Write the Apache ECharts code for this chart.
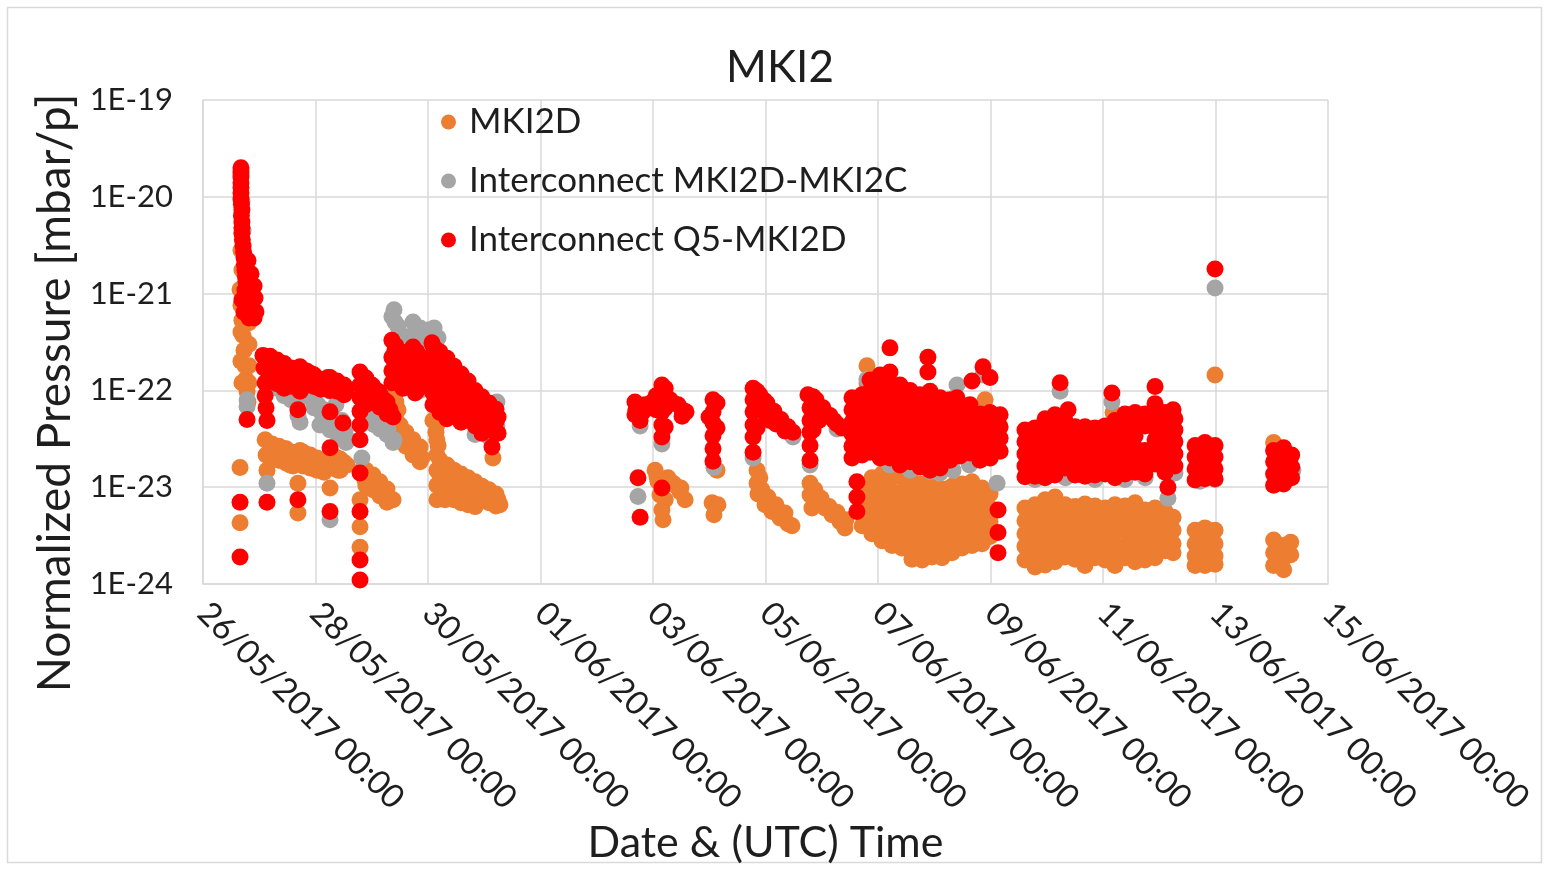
<!DOCTYPE html>
<html>
<head>
<meta charset="utf-8">
<title>MKI2</title>
<script src="https://cdn.jsdelivr.net/npm/echarts@6/dist/echarts.min.js"></script>
<style>
  html, body { margin: 0; padding: 0; background: #ffffff; }
  #chart { width: 1549px; height: 870px; }
</style>
</head>
<body>
<div id="chart"></div>
<script>
// Time axis runs in hours elapsed since 26/05/2017 00:00 UTC.
const xTickLabels = [
  '26/05/2017 00:00', '28/05/2017 00:00', '30/05/2017 00:00', '01/06/2017 00:00',
  '03/06/2017 00:00', '05/06/2017 00:00', '07/06/2017 00:00', '09/06/2017 00:00',
  '11/06/2017 00:00', '13/06/2017 00:00', '15/06/2017 00:00'
];
const yTickLabels = ['1E-24', '1E-23', '1E-22', '1E-21', '1E-20', '1E-19'];
const seriesNames = ['MKI2D', 'Interconnect MKI2D-MKI2C', 'Interconnect Q5-MKI2D'];

// [hours since start, normalized pressure in mbar/p]
const mki2d = [
  // 26/05
  [15.8,1.1e-21],[16.2,7.6e-22],[16.6,5.3e-22],[17.1,3.7e-22],[17.5,2.6e-22],[17.9,1.8e-22],[18.3,1.3e-22],
  [18.8,9.8e-23],[19.2,7.6e-23],[16.2,2.8e-21],[16.6,1.75e-21],[15.8,1.6e-23],[15.8,4.3e-24],
  [19.6,5e-22],[19.6,3e-22],[19.6,1.8e-22],[19.6,1.2e-22],[16.2,4e-22],[16.2,2e-22],[16.6,1.2e-22],
  // 27/05
  [26.5,3.1e-23],[26.9,2.15e-23],[27.3,1.5e-23],[28.6,2.8e-23],[31.6,2.6e-23],[34.6,2.5e-23],[37.5,2.2e-23],
  [40.1,1.9e-23],[41.4,2.4e-23],[44.4,2.15e-23],[47.4,1.95e-23],[49.9,1.8e-23],[52.5,1.7e-23],[54.2,2.15e-23],
  [57.2,2e-23],[60.2,1.8e-23],[61.4,1.7e-23],[32.9,1.9e-23],[37.1,1.7e-23],[45.6,1.65e-23],[57.6,1.5e-23],
  [40.5,1.1e-23],[40.5,5.4e-24],[54.2,9.8e-24],
  [29.4,2.8e-23],[29.4,2.05e-23],[32.4,2.65e-23],[32.4,1.9e-23],[35.4,2.5e-23],[35.4,1.78e-23],
  [38.4,2.3e-23],[38.4,1.66e-23],[42.7,2.3e-23],[42.7,1.66e-23],[45.7,2.15e-23],[45.7,1.58e-23],
  [48.6,2e-23],[48.6,1.5e-23],[51.6,1.87e-23],[51.6,1.43e-23],[55.5,2.15e-23],[55.5,1.58e-23],
  [58.5,1.95e-23],[58.5,1.5e-23],
  // 28/05
  [67.8,1.5e-23],[69.1,1.19e-23],[71.3,1.3e-23],[74.7,1.05e-23],[78.1,8.7e-24],[81.1,7.4e-24],
  [67,7.4e-24],[67,3.9e-24],[67,2.4e-24],
  [69.5,1.5e-23],[69.5,1.05e-23],[72.5,1.34e-23],[72.5,9.4e-24],[75.5,1.14e-23],[75.5,8.1e-24],
  [78.5,9.6e-24],[78.5,7e-24],
  // 29/05
  [81.9,9e-23],[83.2,6.3e-23],[84.1,4.4e-23],[84.9,3.1e-23],[88.3,3.1e-23],[90.9,2.4e-23],[93.4,2e-23],
  [98.1,4.9e-23],[99.4,3.7e-23],[100.3,2.7e-23],[101.1,1.9e-23],[101.1,1.34e-23],[102,9.4e-24],[103.3,7.4e-24],
  [105.4,1.5e-23],[108.8,1.34e-23],[112.2,1.19e-23],[115.6,1.02e-23],[119,9.2e-24],[122.5,8.3e-24],
  [125.9,7.4e-24],[126.7,6.6e-24],[106.2,1.05e-23],[107.9,8.3e-24],[109.7,9.4e-24],[113.9,8.3e-24],
  [116.5,7.4e-24],[123.7,2e-23],
  [82.3,7.6e-23],[82.3,5.1e-23],[82.3,3.55e-23],[86.6,3.7e-23],[86.6,2.65e-23],[89.6,3.1e-23],[89.6,2.15e-23],
  [92.6,2.6e-23],[92.6,1.83e-23],
  [99.8,4.4e-23],[99.8,3.1e-23],[99.8,2.15e-23],[99.8,1.5e-23],[99.8,1.05e-23],[99.8,7.4e-24],
  [104.1,1.7e-23],[104.1,1.19e-23],[104.1,8.3e-24],[107.1,1.5e-23],[107.1,1.05e-23],[107.1,7.4e-24],
  [110.1,1.37e-23],[110.1,9.6e-24],[110.1,6.9e-24],[113.1,1.25e-23],[113.1,8.9e-24],[113.1,6.6e-24],
  [116.1,1.14e-23],[116.1,8.1e-24],[116.1,6.3e-24],[119,1.02e-23],[119,7.4e-24],
  [122,9.4e-24],[122,6.9e-24],[125,8.5e-24],[125,6.4e-24],
  // 02/06 - 03/06
  [192.9,1.5e-23],[194.1,1.15e-23],[195,8.3e-24],[195.8,5.8e-24],[196.3,4.6e-24],[198.4,1.25e-23],
  [201.4,1.05e-23],[203.5,9e-24],[205.7,7.4e-24],
  [193.7,1.3e-23],[197.2,1.05e-23],[197.2,7.4e-24],[200.6,1.1e-23],[203.9,9.8e-24],
  // 04/06
  [217.2,6.9e-24],[219.7,6.6e-24],[218,5.2e-24],[219.3,1.5e-23],
  // 05/06
  [236.4,1.5e-23],[236.4,1.1e-23],[236.8,8.5e-24],[238.5,9.4e-24],[239.8,6.6e-24],[242.8,5.6e-24],
  [246.2,4.8e-24],[249.6,4.2e-24],
  [237.6,1.25e-23],[241,7.9e-24],[244.5,6.6e-24],[248.3,5.4e-24],[251.3,4e-24],
  // 06/06
  [259,1.1e-23],[259,8.3e-24],[259.8,6.1e-24],[262.4,7.4e-24],[265.4,6.1e-24],[268.4,5.2e-24],
  [271.8,4.4e-24],[273.9,3.8e-24],
  [261.1,9.4e-24],[263.7,7.7e-24],[267.1,6.3e-24],[270.5,5.5e-24],[274.3,4.6e-24],
  // 07/06 - 09/06
  [283.3,1.8e-22],[283.3,1.2e-22],[283.3,8e-23],[283.3,5e-23],[283.3,3e-23],
  [281.2,1.05e-23],[281.2,7.8e-24],[281.2,5.6e-24],[281.2,4e-24],
  [285.4,1.25e-23],[285.4,8.9e-24],[285.4,6.4e-24],[285.4,4.6e-24],[285.4,3.3e-24],
  [289.7,1.37e-23],[289.7,9.8e-24],[289.7,7e-24],[289.7,5e-24],[289.7,3.6e-24],[289.7,2.8e-24],
  [294,1.28e-23],[294,9.1e-24],[294,6.6e-24],[294,4.7e-24],[294,3.4e-24],[294,2.5e-24],
  [298.2,1.25e-23],[298.2,8.9e-24],[298.2,6.4e-24],[298.2,4.6e-24],[298.2,3.3e-24],[298.2,2.35e-24],
  [302.5,1.16e-23],[302.5,8.3e-24],[302.5,6e-24],[302.5,4.3e-24],[302.5,3.1e-24],[302.5,2.2e-24],[302.5,1.8e-24],
  [306.8,1.08e-23],[306.8,7.7e-24],[306.8,5.6e-24],[306.8,4e-24],[306.8,2.85e-24],[306.8,2.05e-24],[306.8,1.77e-24],
  [311,1e-23],[311,7.2e-24],[311,5.2e-24],[311,3.7e-24],[311,2.6e-24],[311,1.9e-24],
  [315.3,9.6e-24],[315.3,6.9e-24],[315.3,4.9e-24],[315.3,3.5e-24],[315.3,2.5e-24],[315.3,1.87e-24],
  [319.6,1.02e-23],[319.6,7.4e-24],[319.6,5.3e-24],[319.6,3.8e-24],[319.6,2.7e-24],[319.6,2.1e-24],
  [323.8,1.08e-23],[323.8,7.7e-24],[323.8,5.6e-24],[323.8,4e-24],[323.8,2.85e-24],[323.8,2.35e-24],
  [328.1,1.14e-23],[328.1,8.1e-24],[328.1,5.8e-24],[328.1,4.2e-24],[328.1,3e-24],[328.1,2.5e-24],
  [332.4,9.8e-24],[332.4,7e-24],[332.4,5e-24],[332.4,3.6e-24],[332.4,2.6e-24],
  [335.8,8.5e-24],[335.8,6.1e-24],[335.8,4.4e-24],[335.8,3.1e-24],
  [333.7,8e-23],[334.5,5.6e-23],[334.9,3.9e-23],[300,1.7e-23],[296,1.6e-23],
  // 10/06 - 12/06
  [350.7,6.1e-24],[350.7,4.5e-24],[350.7,3.3e-24],[350.7,2.45e-24],[350.7,1.77e-24],
  [355,6.6e-24],[355,4.8e-24],[355,3.5e-24],[355,2.55e-24],[355,1.9e-24],[355,1.5e-24],
  [359.3,7.4e-24],[359.3,5.5e-24],[359.3,4e-24],[359.3,2.9e-24],[359.3,2.15e-24],[359.3,1.57e-24],
  [363.5,7.9e-24],[363.5,5.8e-24],[363.5,4.3e-24],[363.5,3.1e-24],[363.5,2.3e-24],[363.5,1.7e-24],
  [367.8,6.6e-24],[367.8,4.8e-24],[367.8,3.5e-24],[367.8,2.55e-24],[367.8,1.9e-24],
  [372.1,6.3e-24],[372.1,4.6e-24],[372.1,3.4e-24],[372.1,2.45e-24],[372.1,1.8e-24],
  [376.3,6.7e-24],[376.3,4.9e-24],[376.3,3.6e-24],[376.3,2.6e-24],[376.3,1.95e-24],[376.3,1.55e-24],
  [380.6,6.4e-24],[380.6,4.7e-24],[380.6,3.5e-24],[380.6,2.5e-24],[380.6,1.87e-24],
  [384.9,6.1e-24],[384.9,4.5e-24],[384.9,3.3e-24],[384.9,2.45e-24],[384.9,1.77e-24],
  [389.1,6.6e-24],[389.1,4.8e-24],[389.1,3.5e-24],[389.1,2.55e-24],[389.1,1.9e-24],[389.1,1.55e-24],
  [393.4,6.4e-24],[393.4,4.7e-24],[393.4,3.5e-24],[393.4,2.5e-24],[393.4,1.87e-24],
  [397.7,6.9e-24],[397.7,5.6e-24],[397.7,4.1e-24],[397.7,3e-24],[397.7,2.2e-24],[397.7,1.7e-24],
  [401.9,5.8e-24],[401.9,4.3e-24],[401.9,3.1e-24],[401.9,2.3e-24],[401.9,1.77e-24],
  [406.2,6.1e-24],[406.2,4.5e-24],[406.2,3.3e-24],[406.2,2.45e-24],[406.2,1.87e-24],
  [410.5,5.6e-24],[410.5,4.1e-24],[410.5,3e-24],[410.5,2.2e-24],
  [413.9,4.9e-24],[413.9,3.6e-24],[413.9,2.6e-24],[413.9,2.1e-24],
  [388.3,5.9e-23],
  // 12/06 - 13/06
  [423.3,3.6e-24],[423.3,2.6e-24],[423.3,1.95e-24],[423.3,1.55e-24],
  [427.5,3.8e-24],[427.5,2.8e-24],[427.5,2.05e-24],[427.5,1.55e-24],
  [431.8,3.6e-24],[431.8,2.6e-24],[431.8,1.95e-24],[431.8,1.6e-24],
  [431.8,1.44e-22],
  // 14/06
  [456.8,2.9e-23],[456.8,2.85e-24],[456.8,2.1e-24],[456.8,1.55e-24],
  [461.1,2.5e-24],[461.1,1.87e-24],[461.1,1.4e-24],[464.1,2.7e-24],[464.1,2e-24]
];

const interconnectDC = [
  // 26/05
  [16.2,1.7e-20],[16.6,9e-21],[17.1,4.5e-21],[17.5,2.5e-21],[18.3,1.2e-21],[19.6,8e-22],[20.1,6e-22],
  [18.8,8e-23],[18.8,6.8e-23],
  // 27/05
  [27.7,2e-22],[31.1,1.28e-22],[34.6,1e-22],[38,8.4e-23],[41.4,4.7e-23],[41.4,1.14e-22],[43.9,9e-23],
  [46.5,8e-23],[49.1,7.1e-23],[51.6,6.3e-23],[54.2,9.8e-23],[56.7,7.1e-23],[59.3,4.9e-23],[60.6,3.8e-23],
  [61,2.9e-23],[27.3,1.1e-23],[54.2,3.9e-23],[54.2,4.6e-24],
  [31.6,1.05e-22],[34.6,8.8e-23],[37.5,8e-23],[40.1,7.1e-23],[40.5,5.5e-23],[47.4,6.6e-23],[50.3,6e-23],
  [53.3,5.3e-23],[56.3,5e-23],[59.3,4.2e-23],[61,3.3e-23],[49.9,4.4e-23],[58,3.2e-23],
  // 28/05
  [69.1,8e-23],[72.1,6.3e-23],[75.5,5.3e-23],[78.9,4.1e-23],[81.5,3.1e-23],[67.8,2e-23],[73.4,4.4e-23],
  [69.5,5.1e-23],[72.5,4.5e-23],[75.5,4e-23],[78.5,3.5e-23],[81.1,2.9e-23],
  // 29/05
  [81.5,6.8e-22],[81.9,5.1e-22],[83.2,3.7e-22],[89.6,5.1e-22],[92.6,4.4e-22],[96,4.2e-22],[98.6,4.4e-22],
  [100.3,3.5e-22],[105.4,1.4e-22],[113.9,8e-23],[121.6,6e-23],[125.4,7.6e-23],[125.4,4.4e-23],
  [86,1.2e-22],[92.6,1e-22],
  [80.6,5.8e-22],[83.2,4.6e-22],[87.9,3.6e-22],[90.5,3.3e-22],[94.3,3.4e-22],[98.1,3.2e-22],
  [116.1,3.5e-23],[122,3.3e-23],
  // 02/06 - 06/06
  [185.6,8e-24],[186.5,4.3e-23],[195.8,2.8e-23],[218,1.6e-23],[234.7,2e-23],[251.7,3.3e-23],
  [259,1.7e-23],[270.5,4e-23],
  // 07/06 - 09/06
  [283.3,1.3e-22],[293,1.7e-23],[301.7,1.5e-23],[310.2,1.45e-23],[314.5,1.4e-23],[320,1.5e-23],
  [327,1.7e-23],[338.8,1.1e-23],[321.7,1.14e-22],[332.8,1.44e-22],[336,2e-23],
  // 10/06 - 12/06
  [365.7,9.8e-23],[387.8,7.6e-23],[411.7,7.7e-24],[355,1.2e-23],[368,1.25e-23],[380.6,1.2e-23],
  [393.4,1.2e-23],[402,1.25e-23],[414.7,1.4e-23],
  // 13/06 - 14/06
  [431.8,1.14e-21],[425.4,1.15e-23],[431.8,1.2e-23],[465,1.5e-23],[464,2e-23]
];

const interconnectQ5 = [
  // 26/05
  [16.2,2e-20],[16.2,1.8e-20],[16.2,1.6e-20],[16.2,1.4e-20],[16.2,1.25e-20],[16.2,1.1e-20],[16.2,9.5e-21],
  [16.4,8.4e-21],[16.6,7.3e-21],[16.4,6.4e-21],[16.6,5.5e-21],[16.6,4.8e-21],[16.6,4.2e-21],[16.8,3.6e-21],
  [17.1,3.1e-21],[17.3,2.7e-21],[17.5,2.35e-21],[17.7,2e-21],[17.9,1.75e-21],[18.1,1.5e-21],[18.3,1.33e-21],
  [19.2,1.05e-21],[20.1,8.2e-22],[20.9,6.8e-22],[19.6,5.6e-22],[16.6,8.6e-22],[17.5,6.4e-22],[21.8,5.6e-22],
  [17.9,1.09e-21],[18.8,5e-23],[15.8,7e-24],[15.8,1.9e-24],
  [19.2,2.2e-21],[20.5,1.6e-21],[21.8,1.2e-21],[22.2,9e-22],[22.6,6.5e-22],
  // 27/05
  [25.6,2.3e-22],[26,1.7e-22],[26.5,1.2e-22],[26.5,8.8e-23],[26.9,6.6e-23],[27.3,4.9e-23],[27.3,7e-24],
  [28.6,2.25e-22],[31.1,2e-22],[33.7,1.8e-22],[36.3,1.6e-22],[38.8,1.4e-22],[32.9,1.44e-22],
  [30.7,1.36e-22],[35,1.2e-22],[38.4,1.1e-22],
  [40.5,1.7e-22],[43.5,1.6e-22],[46.5,1.48e-22],[49.1,1.28e-22],[51.6,1.14e-22],[41.4,1.28e-22],[44.8,1.14e-22],
  [53.3,1.36e-22],[56.3,1.25e-22],[59.3,1.14e-22],[61,1e-22],[54.2,1e-22],
  [40.5,6.3e-23],[40.5,7.4e-24],[54.2,6e-23],[54.2,2.55e-23],[54.2,5.6e-24],[59.7,4.6e-23],
  [28.6,2.2e-22],[28.6,1.7e-22],[28.6,1.25e-22],[31.6,2.06e-22],[31.6,1.55e-22],[31.6,1.17e-22],
  [34.6,1.9e-22],[34.6,1.4e-22],[34.6,1.05e-22],[37.5,1.7e-22],[37.5,1.28e-22],
  [41.4,1.75e-22],[41.4,1.3e-22],[41.4,9.8e-23],[44.4,1.58e-22],[44.4,1.2e-22],[47.4,1.44e-22],[47.4,1.1e-22],
  [50.3,1.3e-22],[50.3,1.03e-22],[54.2,1.36e-22],[57.2,1.25e-22],[57.2,9.8e-23],[60.2,1.14e-22],[60.2,9e-23],
  // 28/05
  [67,1.55e-22],[69.5,1.34e-22],[72.1,1.14e-22],[74.7,9.8e-23],[77.2,8e-23],[79.8,6.3e-23],[81.1,5.3e-23],
  [67,1.14e-22],[67,8.4e-23],[67,6.1e-23],[67,4.4e-23],[67,3.1e-23],[67,1.4e-23],[67,5.6e-24],
  [67,1.77e-24],[67,1.1e-24],[70.4,9e-23],[74.7,7.1e-23],
  [69.5,9.8e-23],[69.5,7.1e-23],[72.5,1.1e-22],[72.5,8.2e-23],[75.5,9.2e-23],[75.5,6.7e-23],
  [78.5,7.6e-23],[78.5,5.7e-23],
  // 29/05
  [80.6,3.3e-22],[81.9,2.6e-22],[83.6,2.1e-22],[85.8,1.62e-22],[87.9,1.36e-22],[80.6,2.2e-22],
  [80.6,1.6e-22],[80.6,1.2e-22],[90.5,9.4e-23],
  [89.6,2.8e-22],[91.7,2.3e-22],[94.3,1.75e-22],[96.4,1.4e-22],[89.6,1.95e-22],
  [97.7,3.1e-22],[100.3,2.55e-22],[102.8,2.1e-22],[105.4,1.75e-22],[107.9,1.44e-22],[110.5,1.18e-22],
  [113.1,1e-22],[115.6,8.4e-23],[118.2,7.3e-23],[120.7,6.3e-23],[123.3,5.8e-23],[125.9,5.3e-23],
  [101.1,1.62e-22],[101.1,1.14e-22],[101.1,8e-23],[101.6,6e-23],[104.9,1e-22],[107.5,9e-23],
  [110.5,8e-23],[113.9,6.6e-23],[117.3,5.7e-23],[120.7,4.9e-23],[124.2,4.3e-23],[125.9,3.6e-23],
  [123.3,2.6e-23],
  [82.3,2.9e-22],[82.3,2.2e-22],[82.3,1.65e-22],[82.3,1.25e-22],
  [85.3,2.5e-22],[85.3,1.87e-22],[85.3,1.4e-22],[85.3,1.05e-22],
  [88.3,2.15e-22],[88.3,1.62e-22],[88.3,1.25e-22],
  [91.3,2.5e-22],[91.3,1.87e-22],[91.3,1.4e-22],[91.3,1e-22],
  [94.3,2.15e-22],[94.3,1.62e-22],[94.3,1.25e-22],
  [98.1,2.9e-22],[98.1,2.2e-22],[98.1,1.65e-22],[98.1,1.25e-22],[98.1,9.4e-23],[98.1,7.1e-23],
  [101.1,2.5e-22],[101.1,1.87e-22],[101.1,1.4e-22],[101.1,1.05e-22],[101.1,5.9e-23],
  [104.1,2.15e-22],[104.1,1.62e-22],[104.1,1.25e-22],[104.1,9.2e-23],[104.1,6.9e-23],[104.1,5.1e-23],
  [107.1,1.78e-22],[107.1,1.36e-22],[107.1,1e-22],[107.1,7.6e-23],[107.1,5.7e-23],
  [110.1,1.48e-22],[110.1,1.1e-22],[110.1,8.4e-23],[110.1,6.3e-23],[110.1,4.7e-23],
  [113.1,1.25e-22],[113.1,9.2e-23],[113.1,6.9e-23],[113.1,5.1e-23],
  [116.1,1e-22],[116.1,7.6e-23],[116.1,5.7e-23],[116.1,4.3e-23],
  [119,8.6e-23],[119,6.4e-23],[119,4.8e-23],[119,3.6e-23],
  [122,7.4e-23],[122,5.6e-23],[122,4.2e-23],
  [125,6.4e-23],[125,4.8e-23],[125,3.6e-23],
  // 02/06 - 03/06
  [184.7,6.3e-23],[186.5,4.9e-23],[188.6,7.1e-23],[191.6,7.6e-23],[195.8,1.14e-22],[195.8,8.4e-23],
  [195.8,6e-23],[195.8,4.4e-23],[195.8,3.3e-23],[199.3,8e-23],[202.7,7.1e-23],[206.1,6e-23],
  [185.6,1.25e-23],[195.8,9.8e-24],[186.5,4.9e-24],
  [184.3,7.6e-23],[184.3,5.6e-23],[187.7,6e-23],[190.3,6.6e-23],[193.3,8.8e-23],[193.3,6.3e-23],
  [197.2,1.05e-22],[197.2,6.6e-23],[197.2,4.2e-23],[200.6,7.4e-23],[204.4,6.3e-23],[204.4,5.4e-23],
  // 04/06
  [217.6,8e-23],[217.6,6e-23],[217.6,4.6e-23],[217.6,3.4e-23],[217.6,2.5e-23],[217.6,1.85e-23],
  [219.3,7.4e-23],[219.3,4.1e-23],[215.9,5.3e-23],
  // 05/06
  [234.7,1.05e-22],[234.7,8e-23],[234.7,6e-23],[234.7,4.4e-23],[234.7,3.3e-23],[234.7,2.3e-23],
  [237.6,9e-23],[240.6,7.4e-23],[243.6,6.1e-23],[246.6,5e-23],[249.6,4.2e-23],[251.7,3.7e-23],
  [237.6,6.3e-23],[241.9,4.9e-23],
  [236.4,9.8e-23],[236.4,6.6e-23],[236.4,4.1e-23],[239.4,7.9e-23],[240.6,5.3e-23],[244.5,4.5e-23],
  [248.3,3.8e-23],
  // 06/06
  [258.1,9e-23],[259,6.6e-23],[259,4.9e-23],[259,3.7e-23],[259,2.7e-23],[259,1.9e-23],
  [261.6,8e-23],[264.5,6.6e-23],[267.5,5.5e-23],[270.5,4.5e-23],[262.8,4.9e-23],
  [260.3,8.6e-23],[260.3,5.8e-23],[260.3,3.9e-23],[265.4,5.7e-23],[269.2,4.9e-23],[272.6,4.1e-23],
  // 07/06 - 09/06
  [276.9,8.4e-23],[276.9,6.3e-23],[276.9,4.7e-23],[276.9,3.55e-23],[276.9,2.65e-23],[276.9,2e-23],
  [279,1.14e-23],[279,7.9e-24],[279,5.6e-24],
  [281.2,9e-23],[281.2,6.7e-23],[281.2,5e-23],[281.2,3.8e-23],[281.2,2.9e-23],[281.2,2.15e-23],
  [284.6,1.28e-22],[284.6,9.8e-23],[284.6,7.3e-23],[284.6,5.4e-23],[284.6,4.1e-23],[284.6,3.1e-23],[284.6,2.3e-23],
  [288.9,1.44e-22],[288.9,1.05e-22],[288.9,8e-23],[288.9,5.9e-23],[288.9,4.5e-23],[288.9,3.4e-23],
  [288.9,2.55e-23],[288.9,2e-23],
  [293.1,2.75e-22],[293.1,1.55e-22],[293.1,1.14e-22],[293.1,8.4e-23],[293.1,6.3e-23],[293.1,4.7e-23],
  [293.1,3.55e-23],[293.1,2.65e-23],[293.1,2e-23],
  [297.4,1.14e-22],[297.4,8.6e-23],[297.4,6.4e-23],[297.4,4.8e-23],[297.4,3.6e-23],[297.4,2.7e-23],
  [297.4,2.05e-23],[297.4,1.7e-23],
  [301.7,1e-22],[301.7,7.6e-23],[301.7,5.7e-23],[301.7,4.3e-23],[301.7,3.25e-23],[301.7,2.4e-23],[301.7,1.83e-23],
  [305.9,9e-23],[305.9,6.7e-23],[305.9,5e-23],[305.9,3.8e-23],[305.9,2.9e-23],[305.9,2.15e-23],[305.9,1.62e-23],
  [309.3,2.2e-22],[309.3,1.55e-22],
  [310.2,9.8e-23],[310.2,7.3e-23],[310.2,5.4e-23],[310.2,4.1e-23],[310.2,3.1e-23],[310.2,2.3e-23],
  [310.2,1.74e-23],[310.2,1.5e-23],
  [314.5,8.4e-23],[314.5,6.3e-23],[314.5,4.7e-23],[314.5,3.55e-23],[314.5,2.65e-23],[314.5,2e-23],[314.5,1.58e-23],
  [318.7,8e-23],[318.7,5.9e-23],[318.7,4.5e-23],[318.7,3.4e-23],[318.7,2.55e-23],[318.7,1.9e-23],
  [321.7,8.4e-23],
  [323,6.6e-23],[323,4.9e-23],[323,3.7e-23],[323,2.8e-23],[323,2.1e-23],
  [327.3,7.1e-23],[327.3,5.3e-23],[327.3,4e-23],[327.3,3e-23],[327.3,2.25e-23],
  [328.1,1.25e-22],[332.8,1.75e-22],[335.8,1.36e-22],
  [331.5,5.7e-23],[331.5,4.3e-23],[331.5,3.25e-23],[331.5,2.4e-23],[331.5,1.9e-23],
  [335.8,5.9e-23],[335.8,4.5e-23],[335.8,3.4e-23],[335.8,2.55e-23],[335.8,2e-23],
  [340.1,5.6e-23],[340.1,4.2e-23],[340.1,3.2e-23],[340.1,2.35e-23],
  [339.2,5.8e-24],[339.2,3.4e-24],[339.2,2.1e-24],
  // 10/06 - 12/06
  [365.7,1.2e-22],[387.8,9.4e-23],[406.2,1.1e-22],[369.1,6.3e-23],[413.9,6.3e-23],[411.7,1e-23],
  [350.7,3.9e-23],[350.7,2.95e-23],[350.7,2.2e-23],[350.7,1.66e-23],[350.7,1.28e-23],
  [355,4.1e-23],[355,3.1e-23],[355,2.3e-23],[355,1.74e-23],[355,1.3e-23],
  [359.3,5.1e-23],[359.3,3.9e-23],[359.3,2.95e-23],[359.3,2.2e-23],[359.3,1.66e-23],[359.3,1.25e-23],
  [363.5,5.6e-23],[363.5,4.2e-23],[363.5,3.2e-23],[363.5,2.35e-23],[363.5,1.78e-23],[363.5,1.34e-23],
  [367.8,4.9e-23],[367.8,3.7e-23],[367.8,2.8e-23],[367.8,2.1e-23],[367.8,1.58e-23],
  [372.1,4.2e-23],[372.1,3.2e-23],[372.1,2.35e-23],[372.1,1.78e-23],[372.1,1.34e-23],
  [376.3,4.2e-23],[376.3,3.2e-23],[376.3,2.35e-23],[376.3,1.78e-23],[376.3,1.3e-23],
  [380.6,4.1e-23],[380.6,3.1e-23],[380.6,2.3e-23],[380.6,1.74e-23],[380.6,1.34e-23],
  [384.9,4.3e-23],[384.9,3.25e-23],[384.9,2.4e-23],[384.9,1.83e-23],[384.9,1.37e-23],
  [389.1,4.9e-23],[389.1,3.7e-23],[389.1,2.8e-23],[389.1,2.1e-23],[389.1,1.58e-23],[389.1,1.25e-23],
  [393.4,5.7e-23],[393.4,4.3e-23],[393.4,3.25e-23],[393.4,2.4e-23],[393.4,1.83e-23],[393.4,1.37e-23],
  [397.7,5.9e-23],[397.7,4.5e-23],[397.7,3.4e-23],[397.7,2.55e-23],[397.7,1.9e-23],[397.7,1.43e-23],
  [401.9,5.7e-23],[401.9,4.3e-23],[401.9,2.4e-23],[401.9,1.83e-23],[401.9,1.37e-23],
  [406.2,7.3e-23],[406.2,5.4e-23],[406.2,4.1e-23],[406.2,3.1e-23],[406.2,2.3e-23],[406.2,1.74e-23],
  [410.5,5.9e-23],[410.5,4.5e-23],[410.5,3.4e-23],[410.5,2.55e-23],[410.5,1.9e-23],[410.5,1.43e-23],
  [414.7,5.1e-23],[414.7,3.9e-23],[414.7,2.95e-23],[414.7,2.2e-23],[414.7,1.66e-23],
  // 12/06 - 13/06
  [423.3,2.7e-23],[423.3,2.05e-23],[423.3,1.55e-23],[423.3,1.19e-23],
  [427.5,2.9e-23],[427.5,2.15e-23],[427.5,1.62e-23],[427.5,1.22e-23],
  [431.8,2.7e-23],[431.8,2.05e-23],[431.8,1.55e-23],[431.8,1.22e-23],
  [431.8,1.8e-21],
  // 14/06
  [456.8,2.4e-23],[456.8,1.83e-23],[456.8,1.37e-23],[456.8,1.05e-23],
  [461.1,2.55e-23],[461.1,1.9e-23],[461.1,1.43e-23],[461.1,1.08e-23],
  [464.5,2.15e-23],[464.5,1.62e-23],[464.5,1.25e-23]
];

const seriesData = [mki2d, interconnectDC, interconnectQ5];
const seriesColors = ['#ED7D31', '#A5A5A5', '#FF0000'];

// The log axis works in units of 1E-24 mbar/p (ECharts rounds tiny
// magnitudes away), so the plotted extent is 1 .. 1e5.
const Y_UNIT = 1e-24;
const toAxis = (pts) => pts.map(([h, v]) => [h, v / Y_UNIT]);

const FONT = 'Lato, "Liberation Sans", sans-serif';
const TEXT = '#1e1e1e';
const GRID = '#d9d9d9';
const HOURS_PER_TICK = 48;

const chart = echarts.init(document.getElementById('chart'), null, { renderer: 'canvas' });

const option = {
  animation: false,
  backgroundColor: '#ffffff',
  textStyle: { fontFamily: FONT },
  graphic: [
    {
      type: 'rect', silent: true, z: -10,
      shape: { x: 7.5, y: 7.5, width: 1534, height: 855 },
      style: { fill: 'none', stroke: '#d9d9d9', lineWidth: 1.5 }
    },
    {
      type: 'text', silent: true,
      x: 780, y: 68,
      style: { text: 'MKI2', font: '44px ' + FONT, fill: TEXT, textAlign: 'center', textVerticalAlign: 'middle' }
    },
    {
      type: 'text', silent: true,
      x: 55, y: 393, rotation: Math.PI / 2,
      style: { text: 'Normalized Pressure [mbar/p]', font: '46px ' + FONT, fill: TEXT, textAlign: 'center', textVerticalAlign: 'middle' }
    }
  ],
  grid: { left: 203, right: 221, top: 100, bottom: 286, containLabel: false },
  legend: {
    orient: 'vertical',
    left: 436,
    top: 97,
    itemGap: 19,
    itemWidth: 15,
    itemHeight: 15,
    icon: 'circle',
    selectedMode: false,
    data: seriesNames,
    textStyle: { fontFamily: FONT, fontSize: 35, color: TEXT, lineHeight: 40, padding: [0, 0, 0, 8] }
  },
  xAxis: {
    type: 'value',
    min: 0,
    max: HOURS_PER_TICK * (xTickLabels.length - 1),
    interval: HOURS_PER_TICK,
    name: 'Date & (UTC) Time',
    nameLocation: 'middle',
    nameGap: 235,
    nameTextStyle: { fontFamily: FONT, fontSize: 43, color: TEXT },
    axisLine: { show: true, lineStyle: { color: GRID, width: 1.5 } },
    axisTick: { show: false },
    splitLine: { show: true, lineStyle: { color: GRID, width: 1.5 } },
    axisLabel: {
      rotate: -45,
      margin: 24,
      fontFamily: FONT,
      fontSize: 33,
      color: TEXT,
      showMinLabel: true,
      showMaxLabel: true,
      formatter: (v) => xTickLabels[Math.round(v / HOURS_PER_TICK)] || ''
    }
  },
  yAxis: {
    type: 'log',
    logBase: 10,
    min: 1,
    max: 1e5,
    axisLine: { show: true, lineStyle: { color: GRID, width: 1.5 } },
    axisTick: { show: false },
    splitLine: { show: true, lineStyle: { color: GRID, width: 1.5 } },
    axisLabel: {
      margin: 30,
      fontFamily: FONT,
      fontSize: 31,
      color: TEXT,
      formatter: (v) => yTickLabels[Math.round(Math.log10(v))] || ''
    }
  },
  series: seriesNames.map((name, i) => ({
    name: name,
    type: 'scatter',
    symbol: 'circle',
    symbolSize: 17,
    itemStyle: { color: seriesColors[i], opacity: 1 },
    emphasis: { disabled: true },
    data: toAxis(seriesData[i])
  }))
};

chart.setOption(option);
</script>
</body>
</html>
